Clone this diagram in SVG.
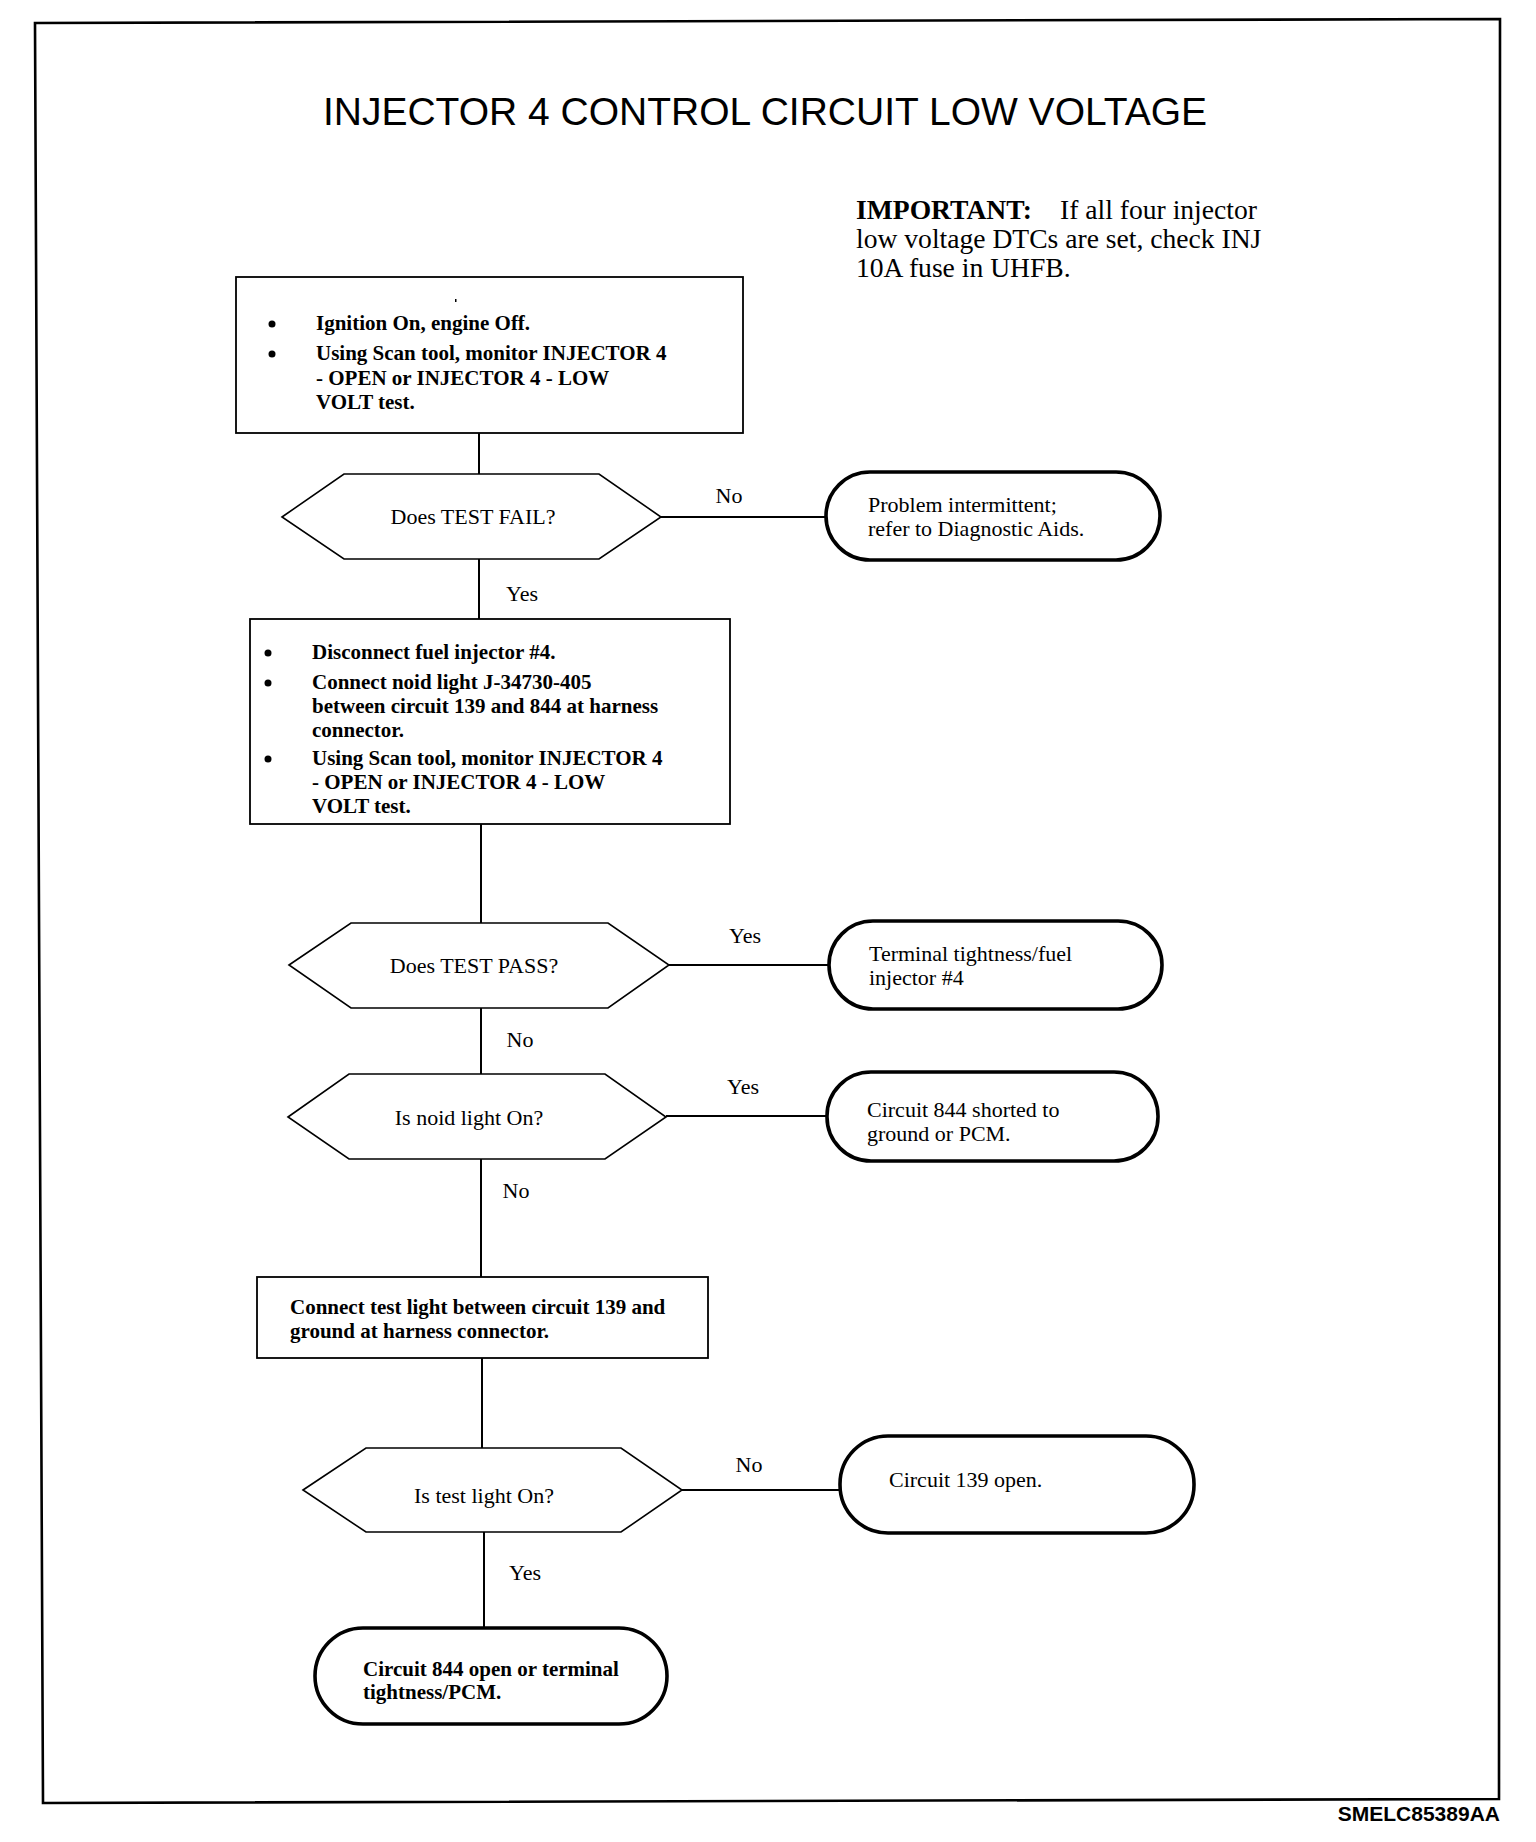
<svg xmlns="http://www.w3.org/2000/svg" width="1536" height="1842" viewBox="0 0 1536 1842">
<style>
.frame{fill:none;stroke:#000;stroke-width:2.6}
.box{fill:#fff;stroke:#000;stroke-width:1.8}
.dec{fill:#fff;stroke:#000;stroke-width:1.6}
.term{fill:#fff;stroke:#000;stroke-width:3.6}
.conn line{stroke:#000;stroke-width:2}
.t{font-family:"Liberation Serif","Times New Roman",serif;font-size:22px;fill:#000}
.tb{font-family:"Liberation Serif","Times New Roman",serif;font-size:21px;font-weight:bold;fill:#000}
.title{font-family:"Liberation Sans",Arial,sans-serif;font-size:39px;fill:#000}
.imp{font-family:"Liberation Serif","Times New Roman",serif;font-size:27.6px;fill:#000}
.code{font-family:"Liberation Sans",Arial,sans-serif;font-size:21px;font-weight:bold;fill:#000}
.mid{text-anchor:middle}
</style>
<rect width="1536" height="1842" fill="#fff"/>
<path class="frame" d="M35,23 L1500,19 L1499,1799 L43,1803 Z"/>
<text class="title mid" x="765" y="125">INJECTOR 4 CONTROL CIRCUIT LOW VOLTAGE</text>
<g id="important">
<text class="imp" x="856" y="219"><tspan font-weight="bold">IMPORTANT:</tspan><tspan x="1060">If all four injector</tspan></text>
<text class="imp" x="856" y="248">low voltage DTCs are set, check INJ</text>
<text class="imp" x="856" y="277">10A fuse in UHFB.</text>
</g>
<g class="conn" id="connectors">
<line x1="479" y1="433" x2="479" y2="474"/>
<line x1="661" y1="517" x2="826" y2="517"/>
<line x1="479" y1="559" x2="479" y2="619"/>
<line x1="481" y1="824" x2="481" y2="923"/>
<line x1="668" y1="965" x2="829" y2="965"/>
<line x1="481" y1="1008" x2="481" y2="1074"/>
<line x1="666" y1="1116" x2="828" y2="1116"/>
<line x1="481" y1="1159" x2="481" y2="1277"/>
<line x1="482" y1="1358" x2="482" y2="1448"/>
<line x1="681" y1="1490" x2="840" y2="1490"/>
<line x1="484" y1="1532" x2="484" y2="1628"/>
<text class="t mid" x="729" y="503">No</text>
<text class="t mid" x="522" y="601">Yes</text>
<text class="t mid" x="745" y="943">Yes</text>
<text class="t mid" x="520" y="1047">No</text>
<text class="t mid" x="743" y="1094">Yes</text>
<text class="t mid" x="516" y="1198">No</text>
<text class="t mid" x="749" y="1472">No</text>
<text class="t mid" x="525" y="1580">Yes</text>
</g>
<g id="box1">
<rect class="box" x="236" y="277" width="507" height="156"/>
<rect x="455" y="299" width="1.5" height="3" fill="#000"/>
<circle cx="272" cy="324" r="3.5"/>
<circle cx="272" cy="354" r="3.5"/>
<text class="tb" x="316" y="330">Ignition On, engine Off.</text>
<text class="tb" x="316" y="360">Using Scan tool, monitor INJECTOR 4</text>
<text class="tb" x="316" y="385">- OPEN or INJECTOR 4 - LOW</text>
<text class="tb" x="316" y="409">VOLT test.</text>
</g>
<g id="dec1">
<polygon class="dec" points="282,517 344,474 599,474 661,517 599,559 344,559"/>
<text class="t mid" x="473" y="524">Does TEST FAIL?</text>
</g>
<g id="term1">
<rect class="term" x="826" y="472" width="334" height="88" rx="44"/>
<text class="t" x="868" y="512">Problem intermittent;</text>
<text class="t" x="868" y="536">refer to Diagnostic Aids.</text>
</g>
<g id="box2">
<rect class="box" x="250" y="619" width="480" height="205"/>
<circle cx="268" cy="653" r="3.5"/>
<circle cx="268" cy="683" r="3.5"/>
<circle cx="268" cy="759" r="3.5"/>
<text class="tb" x="312" y="659">Disconnect fuel injector #4.</text>
<text class="tb" x="312" y="689">Connect noid light J-34730-405</text>
<text class="tb" x="312" y="713">between circuit 139 and 844 at harness</text>
<text class="tb" x="312" y="737">connector.</text>
<text class="tb" x="312" y="765">Using Scan tool, monitor INJECTOR 4</text>
<text class="tb" x="312" y="789">- OPEN or INJECTOR 4 - LOW</text>
<text class="tb" x="312" y="813">VOLT test.</text>
</g>
<g id="dec2">
<polygon class="dec" points="289,965 351,923 608,923 669,965 608,1008 351,1008"/>
<text class="t mid" x="474" y="973">Does TEST PASS?</text>
</g>
<g id="term2">
<rect class="term" x="829" y="921" width="333" height="88" rx="44"/>
<text class="t" x="869" y="961">Terminal tightness/fuel</text>
<text class="t" x="869" y="985">injector #4</text>
</g>
<g id="dec3">
<polygon class="dec" points="288,1117 349,1074 605,1074 666,1117 605,1159 349,1159"/>
<text class="t mid" x="469" y="1125">Is noid light On?</text>
</g>
<g id="term3">
<rect class="term" x="827" y="1072" width="331" height="89" rx="44"/>
<text class="t" x="867" y="1117">Circuit 844 shorted to</text>
<text class="t" x="867" y="1141">ground or PCM.</text>
</g>
<g id="box3">
<rect class="box" x="257" y="1277" width="451" height="81"/>
<text class="tb" x="290" y="1314">Connect test light between circuit 139 and</text>
<text class="tb" x="290" y="1338">ground at harness connector.</text>
</g>
<g id="dec4">
<polygon class="dec" points="303,1490 366,1448 621,1448 682,1490 621,1532 366,1532"/>
<text class="t mid" x="484" y="1503">Is test light On?</text>
</g>
<g id="term4">
<rect class="term" x="840" y="1436" width="354" height="97" rx="48"/>
<text class="t" x="889" y="1487">Circuit 139 open.</text>
</g>
<g id="term5">
<rect class="term" x="315" y="1628" width="352" height="96" rx="48"/>
<text class="tb" x="363" y="1676">Circuit 844 open or terminal</text>
<text class="tb" x="363" y="1699">tightness/PCM.</text>
</g>
<text class="code" x="1500" y="1821" text-anchor="end">SMELC85389AA</text>
</svg>
